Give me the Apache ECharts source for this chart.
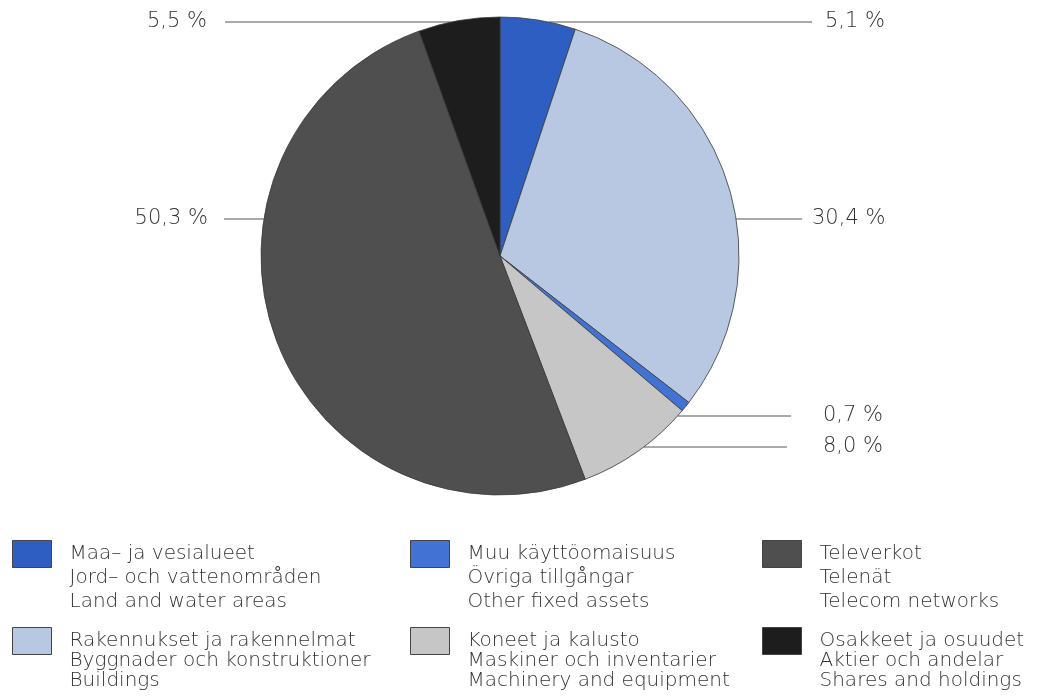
<!DOCTYPE html>
<html>
<head>
<meta charset="utf-8">
<script src="https://cdn.jsdelivr.net/npm/echarts@6/dist/echarts.min.js"></script>
<style>
html,body{margin:0;padding:0;background:#fff;}
#chart{width:1047px;height:698px;}
</style>
</head>
<body>
<div id="chart"></div>
<script>
// ---- data ----
var namesFi = ['Maa\u2013 ja vesialueet', 'Rakennukset ja rakennelmat', 'Muu k\u00e4ytt\u00f6omaisuus', 'Koneet ja kalusto', 'Televerkot', 'Osakkeet ja osuudet'];
var namesSv = ['Jord\u2013 och vattenomr\u00e5den', 'Byggnader och konstruktioner', '\u00d6vriga tillg\u00e5ngar', 'Maskiner och inventarier', 'Telen\u00e4t', 'Aktier och andelar'];
var namesEn = ['Land and water areas', 'Buildings', 'Other fixed assets', 'Machinery and equipment', 'Telecom networks', 'Shares and holdings'];
var values = [5.1, 30.4, 0.7, 8.0, 50.3, 5.5];
var valueLabels = ['5,1 %', '30,4 %', '0,7 %', '8,0 %', '50,3 %', '5,5 %'];

// ---- styles / layout ----
var colors = ['#2f5ec2', '#b8c8e2', '#4272d4', '#c6c6c6', '#4f4f4f', '#1d1d1d'];
var CX = 500, CY = 256, R = 239;
// label layout: side (+1 right, -1 left), label y, line end x, text x
var labelLayoutCfg = [
  {side: 1, y: 22, lineEnd: 812, textX: 825},
  {side: 1, y: 219, lineEnd: 802, textX: 812},
  {side: 1, y: 416, lineEnd: 791, textX: 823},
  {side: 1, y: 447, lineEnd: 787, textX: 823},
  {side: -1, y: 219, lineEnd: 224, textX: 208},
  {side: -1, y: 22, lineEnd: 225, textX: 207}
];
// legend: left edge of swatch, centre y of first text line, line height
var legendPos = [
  {left: 12, c: 554, lh: 24}, {left: 12, c: 641, lh: 20},
  {left: 410, c: 554, lh: 24}, {left: 410, c: 641, lh: 20},
  {left: 762, c: 554, lh: 24}, {left: 762, c: 641, lh: 20}
];
var FONT = 'DejaVu Sans';

var chart = echarts.init(document.getElementById('chart'), null, {renderer: 'canvas'});

var pieData = values.map(function (v, i) {
  return {name: namesFi[i], value: v, itemStyle: {color: colors[i]}};
});

var legends = namesFi.map(function (n, i) {
  var lp = legendPos[i];
  return {
    data: [n],
    left: lp.left,
    top: lp.c - 2.5 * lp.lh,
    padding: 0,
    orient: 'vertical',
    itemWidth: 39,
    itemHeight: 27,
    icon: 'rect',
    selectedMode: false,
    itemStyle: {borderColor: '#444', borderWidth: 1},
    formatter: function (name) {
      var k = namesFi.indexOf(name);
      return '\n\n' + namesFi[k] + '\n' + namesSv[k] + '\n' + namesEn[k];
    },
    textStyle: {
      fontFamily: FONT,
      fontWeight: 200,
      fontSize: 20,
      lineHeight: lp.lh,
      color: '#333',
      padding: [0, 0, 0, 13]
    }
  };
});

chart.setOption({
  animation: false,
  backgroundColor: '#fff',
  legend: legends,
  series: [{
    type: 'pie',
    center: [CX, CY],
    radius: R,
    startAngle: 90,
    clockwise: true,
    avoidLabelOverlap: false,
    data: pieData,
    itemStyle: {borderColor: '#3a3a3a', borderWidth: 0.8},
    emphasis: {disabled: true},
    label: {
      show: true,
      position: 'outside',
      formatter: function (p) { return valueLabels[p.dataIndex]; },
      fontFamily: FONT,
      fontWeight: 200,
      fontSize: 21,
      color: '#333'
    },
    labelLine: {show: true, length: 10, length2: 10, smooth: false,
      lineStyle: {color: '#555', width: 1}},
    labelLayout: function (params) {
      var c = labelLayoutCfg[params.dataIndex];
      var dy = c.y - CY;
      var edgeX = CX + c.side * Math.sqrt(Math.max(R * R - dy * dy, 0));
      return {
        x: c.textX,
        y: c.y,
        align: c.side > 0 ? 'left' : 'right',
        verticalAlign: 'middle',
        labelLinePoints: [[edgeX, c.y], [edgeX, c.y], [c.lineEnd, c.y]]
      };
    }
  }]
});
</script>
</body>
</html>
